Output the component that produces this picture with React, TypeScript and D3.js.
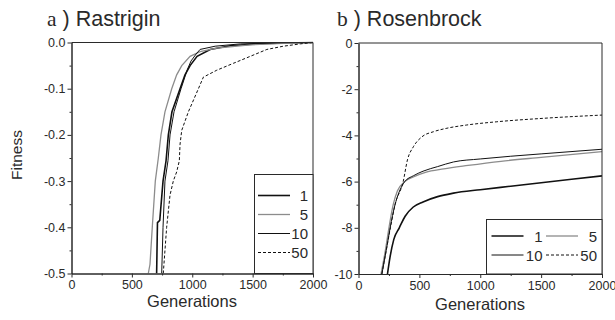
import React, { useEffect, useRef } from 'react';
import * as d3 from 'd3';

type Pt = [number, number];

const seriesNames = ['1', '5', '10', '50'];

// Rastrigin, [generation, fitness]
const rastrigin1: Pt[] = [
  [705, -0.5], [710, -0.42], [712, -0.39], [731, -0.385], [758, -0.3], [783, -0.256],
  [802, -0.2], [832, -0.15], [899, -0.1], [940, -0.07], [982, -0.05], [1040, -0.03],
  [1148, -0.015], [1314, -0.007], [1605, -0.002], [2000, 0],
];
const rastrigin5: Pt[] = [
  [636, -0.5], [650, -0.48], [669, -0.4], [694, -0.3], [719, -0.25], [741, -0.2],
  [774, -0.15], [830, -0.1], [871, -0.07], [913, -0.05], [982, -0.03], [1065, -0.02],
  [1203, -0.012], [1480, -0.005], [1755, -0.002], [2000, 0],
];
const rastrigin10: Pt[] = [
  [747, -0.5], [758, -0.4], [774, -0.3], [799, -0.256], [816, -0.2], [849, -0.15],
  [907, -0.1], [957, -0.06], [990, -0.04], [1032, -0.025], [1065, -0.015],
  [1190, -0.008], [1397, -0.003], [1810, 0], [2000, 0],
];
const rastrigin50: Pt[] = [
  [760, -0.5], [788, -0.4], [816, -0.33], [843, -0.3], [871, -0.28], [893, -0.256],
  [899, -0.22], [913, -0.19], [968, -0.15], [1051, -0.1], [1092, -0.075],
  [1203, -0.06], [1341, -0.045], [1480, -0.03], [1618, -0.015], [1755, -0.008],
  [1895, -0.003], [2000, 0],
];

// Rosenbrock, [generation, fitness]
const rosenbrock1: Pt[] = [
  [238, -10], [258, -9.3], [290, -8.5], [335, -8.0], [383, -7.5], [450, -7.1],
  [530, -6.88], [650, -6.65], [780, -6.5], [1000, -6.35], [1250, -6.2],
  [1500, -6.05], [1750, -5.9], [2000, -5.75],
];
const rosenbrock5: Pt[] = [
  [185, -10], [220, -9], [250, -8], [285, -7], [320, -6.4], [380, -6.0], [450, -5.8],
  [550, -5.6], [700, -5.45], [900, -5.3], [1170, -5.12], [1500, -4.95], [2000, -4.7],
];
const rosenbrock10: Pt[] = [
  [192, -10], [227, -9], [260, -8], [300, -7], [330, -6.5], [380, -6.0], [450, -5.75],
  [530, -5.55], [650, -5.35], [780, -5.15], [1000, -5.02], [1500, -4.8], [2000, -4.6],
];
const rosenbrock50: Pt[] = [
  [192, -10], [227, -9], [262, -8], [300, -7], [367, -6], [402, -5.06], [451, -4.49],
  [521, -4.06], [616, -3.84], [726, -3.69], [889, -3.55], [1136, -3.41],
  [1519, -3.26], [2000, -3.12],
];

const xTicks = [0, 500, 1000, 1500, 2000];
const rastriginTicks = [0, -0.1, -0.2, -0.3, -0.4, -0.5];
const rosenbrockTicks = [0, -2, -4, -6, -8, -10];

const styles = [
  { stroke: '#111', width: 1.6, dash: '' },
  { stroke: '#8c8c8c', width: 1.3, dash: '' },
  { stroke: '#111', width: 1, dash: '' },
  { stroke: '#111', width: 1, dash: '3,2' },
];

const FONT = 'Liberation Sans, Arial, sans-serif';
const INK = '#2a2a2a';

interface PanelProps {
  id: string;
  left: number;
  right: number;
  top: number;
  bottom: number;
  yDomain: [number, number];
  yTicks: number[];
  yFormat: (v: number) => string;
  series: Pt[][];
  legend: 'column' | 'grid';
  smooth?: boolean;
}

const Panel: React.FC<PanelProps> = (p) => {
  const gRef = useRef<SVGGElement>(null);
  const x = d3.scaleLinear().domain([0, 2000]).range([p.left, p.right]);
  const y = d3.scaleLinear().domain(p.yDomain).range([p.bottom, p.top]);

  useEffect(() => {
    const g = d3.select(gRef.current!);
    g.selectAll('*').remove();
    const step = p.yTicks[0] - p.yTicks[1];
    const yMinor = d3.range(p.yTicks.length - 1).map((i) => p.yTicks[i] - step / 2);
    const xMinor = d3.range(xTicks.length - 1).map((i) => xTicks[i] + 250);

    const bx = g.append('g').attr('transform', `translate(0,${p.bottom})`);
    bx.call(d3.axisBottom(x).tickValues(xTicks).tickSizeInner(4).tickSizeOuter(0).tickPadding(3).tickFormat((d) => String(d)));
    const bxm = g.append('g').attr('transform', `translate(0,${p.bottom})`);
    bxm.call(d3.axisBottom(x).tickValues(xMinor).tickSizeInner(2).tickSizeOuter(0).tickFormat(() => ''));

    const ly = g.append('g').attr('transform', `translate(${p.left},0)`);
    ly.call(d3.axisLeft(y).tickValues(p.yTicks).tickSizeInner(4).tickSizeOuter(0).tickPadding(2).tickFormat((d) => p.yFormat(d as number)));
    const lym = g.append('g').attr('transform', `translate(${p.left},0)`);
    lym.call(d3.axisLeft(y).tickValues(yMinor).tickSizeInner(2).tickSizeOuter(0).tickFormat(() => ''));

    g.selectAll('.domain').attr('stroke', INK).attr('stroke-width', 1);
    g.selectAll('.tick line').attr('stroke', INK);
    g.selectAll('.tick text').attr('fill', INK).attr('font-family', FONT).attr('font-size', 12.5);
  }, []);

  const line = d3
    .line<Pt>()
    .x((d) => x(d[0]))
    .y((d) => y(d[1]))
    .curve(p.smooth ? d3.curveMonotoneX : d3.curveLinear);

  const lg = p.legend;
  return (
    <g>
      <defs>
        <clipPath id={`clip-${p.id}`}>
          <rect x={p.left} y={p.top - 1} width={p.right - p.left} height={p.bottom - p.top + 1} />
        </clipPath>
      </defs>
      <g clipPath={`url(#clip-${p.id})`}>
        {p.series.map((s, i) => (
          <path
            key={i}
            d={line(s) || ''}
            fill="none"
            stroke={styles[i].stroke}
            strokeWidth={styles[i].width}
            strokeDasharray={styles[i].dash || undefined}
          />
        ))}
      </g>
      <line x1={p.left} x2={p.right} y1={p.top} y2={p.top} stroke={INK} />
      <line x1={p.right} x2={p.right} y1={p.top} y2={p.bottom} stroke={INK} />
      <g ref={gRef} />
      {lg === 'column' ? (
        <g>
          <rect x={254.5} y={174.5} width={p.right - 254.5} height={p.bottom - 174.5} fill="#fff" stroke={INK} />
          {seriesNames.map((n, i) => (
            <g key={n}>
              <line
                x1={258}
                x2={290}
                y1={195.5 + i * 19}
                y2={195.5 + i * 19}
                stroke={styles[i].stroke}
                strokeWidth={styles[i].width}
                strokeDasharray={styles[i].dash || undefined}
              />
              <text x={308} y={195.5 + i * 19 + 5.5} textAnchor="end" fontFamily={FONT} fontSize={15} fill={INK}>
                {n}
              </text>
            </g>
          ))}
        </g>
      ) : (
        <g>
          <rect x={486.5} y={219.5} width={p.right - 486.5} height={p.bottom - 219.5} fill="#fff" stroke={INK} />
          {seriesNames.map((n, i) => {
            const col = i % 2;
            const row = Math.floor(i / 2);
            const x0 = 491.5 + col * 54.5;
            const yy = 236 + row * 19;
            return (
              <g key={n}>
                <line
                  x1={x0}
                  x2={x0 + 32}
                  y1={yy}
                  y2={yy}
                  stroke={styles[i].stroke}
                  strokeWidth={styles[i].width}
                  strokeDasharray={styles[i].dash || undefined}
                />
                <text x={x0 + 51} y={yy + 5.5} textAnchor="end" fontFamily={FONT} fontSize={15} fill={INK}>
                  {n}
                </text>
              </g>
            );
          })}
        </g>
      )}
    </g>
  );
};

export default function App() {
  return (
    <svg
      width={615}
      height={320}
      style={{ position: 'absolute', left: 0, top: 0, background: '#fff' }}
    >
      <text x={47} y={26} fontFamily={FONT} fontSize={21.5} fill={INK}>
        <tspan fontFamily="Liberation Serif, serif">a</tspan>
        <tspan> ) Rastrigin</tspan>
      </text>
      <text x={337} y={26} fontFamily={FONT} fontSize={21.5} fill={INK}>
        <tspan fontFamily="Liberation Serif, serif">b</tspan>
        <tspan> ) Rosenbrock</tspan>
      </text>
      <text
        transform="translate(21.5,155) rotate(-90)"
        textAnchor="middle"
        fontFamily={FONT}
        fontSize={15.5}
        fill={INK}
      >
        Fitness
      </text>
      <text x={192} y={307} textAnchor="middle" fontFamily={FONT} fontSize={16.5} fill={INK}>
        Generations
      </text>
      <text x={480} y={310} textAnchor="middle" fontFamily={FONT} fontSize={16.5} fill={INK}>
        Generations
      </text>
      <Panel
        id="a"
        left={71.5}
        right={313}
        top={42.5}
        bottom={273.5}
        yDomain={[-0.5, 0]}
        yTicks={rastriginTicks}
        yFormat={(v) => (v === 0 ? '0.0' : v.toFixed(1))}
        series={[rastrigin1, rastrigin5, rastrigin10, rastrigin50]}
        legend="column"
      />
      <Panel
        id="b"
        left={358.5}
        right={602}
        top={43}
        bottom={274}
        yDomain={[-10, 0]}
        yTicks={rosenbrockTicks}
        yFormat={(v) => String(v)}
        series={[rosenbrock1, rosenbrock5, rosenbrock10, rosenbrock50]}
        legend="grid"
        smooth
      />
    </svg>
  );
}
